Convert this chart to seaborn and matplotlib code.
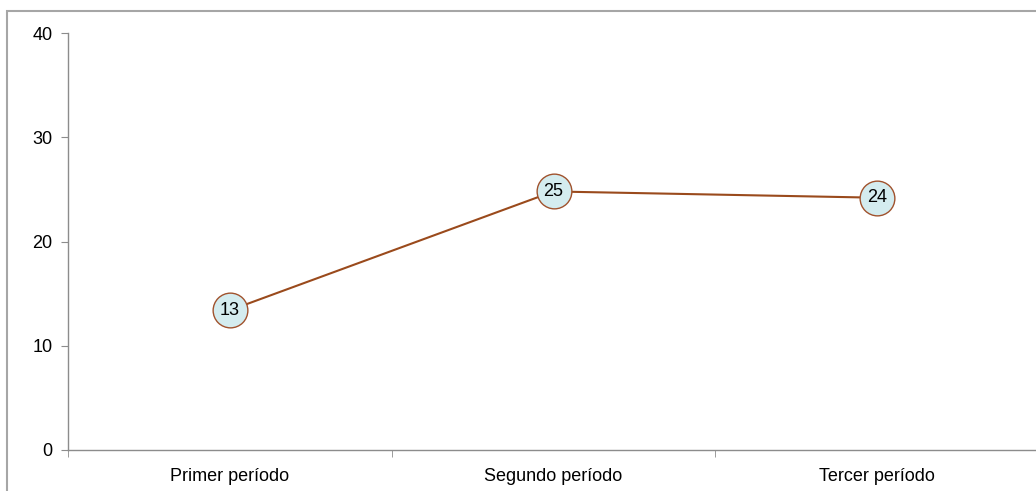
import matplotlib
matplotlib.use("Agg")
import matplotlib.pyplot as plt
from matplotlib.patches import Rectangle
from matplotlib.ticker import FixedLocator, NullFormatter
import seaborn as sns
import pandas as pd

categories = ["Primer período", "Segundo período", "Tercer período"]
values = [13.4, 24.8, 24.2]
yticks = [0, 10, 20, 30, 40]

sns.set_style("white")
plt.rcParams['font.family'] = ['Liberation Sans', 'DejaVu Sans']

df = pd.DataFrame({"periodo": categories, "valor": values})

fig = plt.figure(figsize=(10.36, 4.91), dpi=100)
ax = fig.add_axes([68/1036, 1 - 450/491, (1039 - 68)/1036, (450 - 33)/491])

sns.lineplot(data=df, x="periodo", y="valor", ax=ax, color="#9A4A1C", linewidth=1.5,
             marker="o", markersize=25, markerfacecolor="#D4ECEF",
             markeredgecolor="#A0522D", markeredgewidth=1.0, sort=False)

for i, v in enumerate(values):
    ax.text(i, v, f"{round(v):d}", ha="center", va="center", fontsize=13, color="black")

ax.set_xlim(-0.5, 2.5)
ax.set_ylim(0, 40)
ax.set_yticks(yticks)
ax.set_yticklabels([str(t) for t in yticks], fontsize=13, color="black")
ax.set_xticks(range(len(categories)))
ax.set_xticklabels(categories, fontsize=13, color="black")
ax.xaxis.set_minor_locator(FixedLocator([-0.5, 0.5, 1.5, 2.5]))
ax.xaxis.set_minor_formatter(NullFormatter())
ax.tick_params(axis="x", which="major", length=0, pad=13)
ax.tick_params(axis="x", which="minor", length=5, color="#8c8c8c", direction="out", bottom=True)
ax.tick_params(axis="y", length=5, color="#8c8c8c", direction="out", left=True, pad=6)
ax.set_xlabel("")
ax.set_ylabel("")
for s in ["top", "right"]:
    ax.spines[s].set_visible(False)
for s in ["left", "bottom"]:
    ax.spines[s].set_color("#8c8c8c")
    ax.spines[s].set_linewidth(1.0)

border = Rectangle((7/1036, -0.1), 1.2, (1 - 11/491) + 0.1, transform=fig.transFigure,
                   fill=False, edgecolor="#a6a6a6", linewidth=1.5, zorder=-1)
fig.patches.append(border)

fig.savefig("out.png", dpi=100)
